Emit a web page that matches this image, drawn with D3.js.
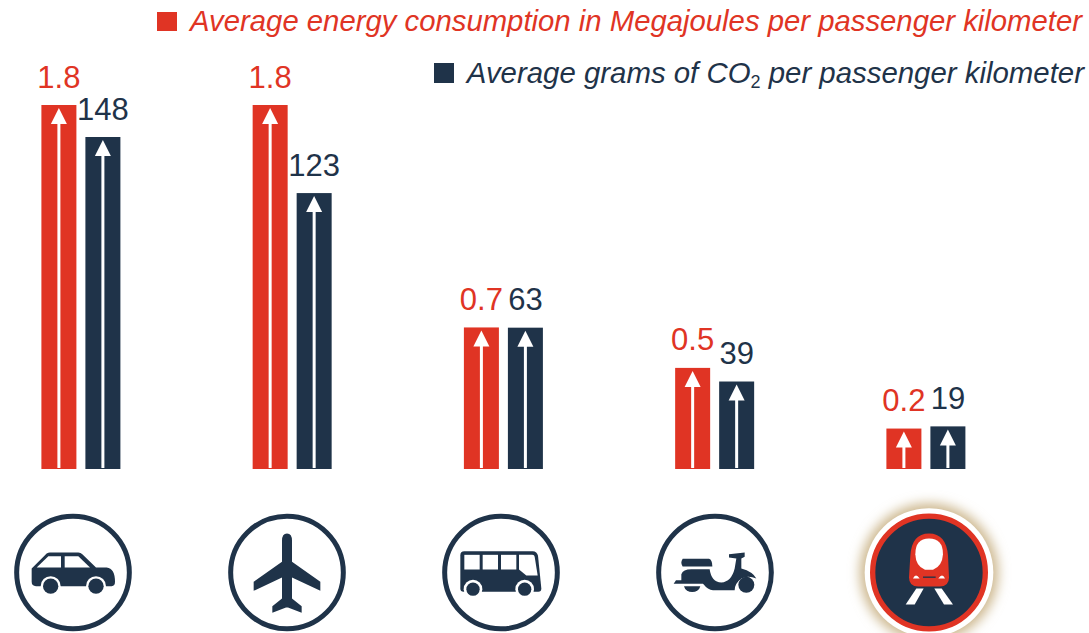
<!DOCTYPE html>
<html>
<head>
<meta charset="utf-8">
<script src="https://d3js.org/d3.v7.min.js"></script>
<style>
  html, body { margin: 0; padding: 0; background: #fff; overflow: hidden; }
  text { font-family: "Liberation Sans", Arial, sans-serif; }
</style>
</head>
<body>
<div id="chart"></div>
<script>
var svgWidth = 1089;
var svgHeight = 633;

var red = "#e03424";
var navy = "#1f3349";

var modes = ["car", "plane", "bus", "scooter", "train"];
var energyValues = [1.8, 1.8, 0.7, 0.5, 0.2];
var co2Values = [148, 123, 63, 39, 19];
var seriesNames = ["energy", "co2"];

var svg = d3.select("#chart")
  .append("svg")
  .attr("width", svgWidth)
  .attr("height", svgHeight);

// scales, each series has its own y
var xGroup = d3.scaleBand()
  .domain(modes)
  .range([41.4, 965.4])
  .paddingInner(1 - 79 / 211.25);

var xSeries = d3.scaleBand()
  .domain(seriesNames)
  .range([0, xGroup.bandwidth()])
  .paddingInner(9 / 44);

var yEnergy = d3.scaleLinear().domain([0, 1.8]).range([469, 105]);
var yCo2 = d3.scaleLinear().domain([0, 148]).range([469, 137]);

var xIcon = d3.scalePoint().domain(modes).range([73, 929]);

var bars = [];
modes.forEach(function(m, i) {
  bars.push({ mode: m, series: "energy", value: energyValues[i], y: yEnergy, color: red });
  bars.push({ mode: m, series: "co2", value: co2Values[i], y: yCo2, color: navy });
});

// bars
var barGroups = svg.selectAll(".bar")
  .data(bars)
  .enter()
  .append("g")
  .attr("class", "bar")
  .attr("transform", d => `translate(${xGroup(d.mode) + xSeries(d.series)}, 0)`);

barGroups.append("rect")
  .attr("y", d => d.y(d.value))
  .attr("width", xSeries.bandwidth())
  .attr("height", d => d.y(0) - d.y(d.value))
  .attr("fill", d => d.color);

// white arrow inside each bar
var mid = xSeries.bandwidth() / 2;
barGroups.append("rect")
  .attr("x", mid - 1.5)
  .attr("y", d => d.y(d.value) + 16)
  .attr("width", 3)
  .attr("height", d => d.y(0) - d.y(d.value) - 17)
  .attr("fill", "#fff");

barGroups.append("path")
  .attr("d", d => {
    var top = d.y(d.value) + 3;
    return `M${mid},${top}L${mid + 8},${top + 16}L${mid - 8},${top + 16}Z`;
  })
  .attr("fill", "#fff");

// value labels
barGroups.append("text")
  .attr("x", mid)
  .attr("y", d => d.y(d.value) - 17.5)
  .attr("text-anchor", "middle")
  .attr("font-size", 31)
  .attr("fill", d => d.color)
  .text(d => d.value);

// legend
svg.append("rect").attr("x", 157).attr("y", 12).attr("width", 20).attr("height", 19).attr("fill", red);
svg.append("text")
  .attr("x", 1082)
  .attr("y", 31)
  .attr("text-anchor", "end")
  .attr("font-size", 29.3)
  .attr("font-style", "italic")
  .attr("fill", red)
  .text("Average energy consumption in Megajoules per passenger kilometer");

svg.append("rect").attr("x", 434).attr("y", 63).attr("width", 20).attr("height", 20).attr("fill", navy);
var co2Legend = svg.append("text")
  .attr("x", 1084)
  .attr("y", 83)
  .attr("text-anchor", "end")
  .attr("font-size", 29.4)
  .attr("font-style", "italic")
  .attr("fill", navy);
co2Legend.append("tspan").text("Average grams of CO");
co2Legend.append("tspan").attr("font-size", 18).attr("font-style", "normal").attr("dy", 5).text("2");
co2Legend.append("tspan").attr("dy", -5).text(" per passenger kilometer");

// icons, drawn in 3x units around the circle centre
var iconY = 572.5;

function icon(mode) {
  return svg.append("g")
    .attr("transform", `translate(${xIcon(mode)}, ${iconY}) scale(${1 / 3})`);
}

function ring(g) {
  g.append("circle").attr("r", 169).attr("fill", "#fff").attr("stroke", navy).attr("stroke-width", 15);
}

function wheel(g, x, y, gap, r) {
  g.append("circle").attr("cx", x).attr("cy", y).attr("r", gap).attr("fill", "#fff");
  g.append("circle").attr("cx", x).attr("cy", y).attr("r", r).attr("fill", navy);
}

// car
var car = icon("car");
ring(car);
car.append("path")
  .attr("d", "M-124,-12L-79,-57Q-74,-60 -69,-60L16,-60Q23,-60 28,-55L69,-15L101,-15Q126,-12 126,28Q126,41 116,41L-111,41Q-124,41 -124,28Z")
  .attr("fill", navy);
car.append("path").attr("d", "M-109,-15L-74,-49L-36,-49L-36,-15Z").attr("fill", "#fff");
car.append("path").attr("d", "M-25,-49L16,-49L51,-15L-25,-15Z").attr("fill", "#fff");
wheel(car, -67, 41, 30, 23);
wheel(car, 69, 41, 30, 23);

// plane
var plane = icon("plane");
ring(plane);
plane.append("path")
  .attr("d", "M-15,-95Q-15,-117 0,-117Q15,-117 15,-95L15,-32L100,28L100,55L15,15L15,78L44,101L44,121L3,105L-3,105L-44,121L-44,101L-15,78L-15,15L-100,55L-100,28L-15,-32Z")
  .attr("fill", navy);

// bus
var bus = icon("bus");
ring(bus);
bus.append("path")
  .attr("d", "M-122,-52Q-122,-64 -110,-64L95,-64Q108,-64 111,-50L121,48Q121,58 112,58L-112,58Q-122,58 -122,48Z")
  .attr("fill", navy);
bus.selectAll(".win")
  .data([-110, -55, 0])
  .enter()
  .append("rect")
  .attr("x", d => d)
  .attr("y", -53)
  .attr("width", 46)
  .attr("height", 44)
  .attr("fill", "#fff");
bus.append("path").attr("d", "M54,-53L94,-53Q100,-53 101,-47L110,9L76,9L54,-9Z").attr("fill", "#fff");
wheel(bus, -84, 50, 28, 20);
wheel(bus, 71, 50, 28, 20);

// scooter
var scooter = icon("scooter");
ring(scooter);
scooter.append("path")
  .attr("d", "M-97,-41L-18,-41Q-8,-38 -8,-18L-97,-18Q-105,-29 -97,-41Z")
  .attr("fill", navy);
scooter.append("path")
  .attr("d", "M-124,34L-117,23L-101,23L-101,5Q-96,-10 -71,-10L-16,-10Q-11,28 19,30Q49,28 59,-12L64,-42L42,-45L42,-55L89,-60L89,-47L79,-42L79,-12Q114,-2 124,18Q99,8 79,18Q59,33 59,53L-6,53Q-21,53 -36,34Z")
  .attr("fill", navy);
scooter.append("path").attr("d", "M-93,41A25,22 0 0 0 -44,41Z").attr("fill", navy);
scooter.append("circle").attr("cx", 94).attr("cy", 37).attr("r", 24).attr("fill", navy);

// train, highlighted with a glow and a red ring
var glow = svg.append("defs").append("filter")
  .attr("id", "glow")
  .attr("x", "-30%").attr("y", "-30%").attr("width", "160%").attr("height", "160%");
glow.append("feGaussianBlur").attr("stdDeviation", 17);

var train = icon("train");
train.append("circle").attr("r", 208).attr("fill", "#cdb88f").attr("filter", "url(#glow)");
train.append("circle").attr("r", 193).attr("fill", "#fff");
train.append("circle").attr("r", 169).attr("fill", navy).attr("stroke", red).attr("stroke-width", 16);
train.append("path")
  .attr("d", "M0,-117Q52,-117 57,-50L60,15Q60,42 32,42L-32,42Q-60,42 -60,15L-56,-50Q-52,-117 0,-117Z")
  .attr("fill", red);
train.append("path")
  .attr("d", "M0,-102Q42,-102 42,-55Q40,-20 12,-8L-12,-8Q-40,-20 -41,-55Q-41,-102 0,-102Z")
  .attr("fill", "#fff");
train.append("path").attr("d", "M-48,18Q-40,0 -28,18Z").attr("fill", "#fff");
train.append("path").attr("d", "M48,18Q40,0 28,18Z").attr("fill", "#fff");
train.append("rect").attr("x", -18).attr("y", 12).attr("width", 38).attr("height", 4).attr("fill", navy);
train.append("path").attr("d", "M-38,48L-16,48L-43,96L-70,96Z").attr("fill", "#fff");
train.append("path").attr("d", "M16,48L38,48L72,96L45,96Z").attr("fill", "#fff");
</script>
</body>
</html>
